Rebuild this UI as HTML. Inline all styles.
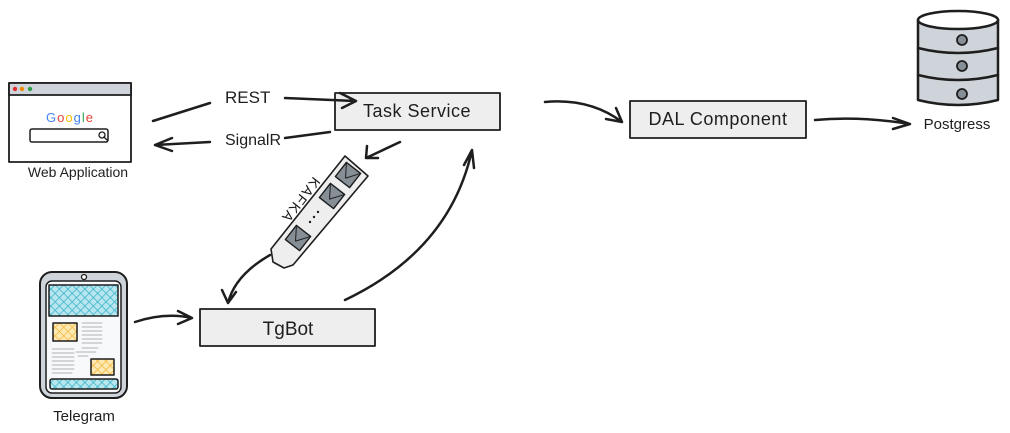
<!DOCTYPE html>
<html><head><meta charset="utf-8"><style>
html,body{margin:0;padding:0;background:#fff;}
svg{display:block;}
text{font-family:"Liberation Sans",sans-serif;fill:#1e1e1e;}
</style></head><body>
<svg width="1010" height="433" viewBox="0 0 1010 433" xmlns="http://www.w3.org/2000/svg">
<defs>
<pattern id="hb" width="6" height="6" patternUnits="userSpaceOnUse" patternTransform="rotate(45)">
<rect width="6" height="6" fill="#b8e6ee"/><path d="M0 0H6M0 0V6" stroke="#3bb4cc" stroke-width="1.6"/></pattern>
<pattern id="hy" width="6" height="6" patternUnits="userSpaceOnUse" patternTransform="rotate(45)">
<rect width="6" height="6" fill="#fde9b4"/><path d="M0 0H6M0 0V6" stroke="#f5b83c" stroke-width="1.6"/></pattern>
</defs>
<g fill="none" stroke="#1e1e1e" stroke-width="2.5" stroke-linecap="round" stroke-linejoin="round">
<rect x="9" y="83" width="122" height="79" fill="#fff" stroke-width="1.8"/>
<rect x="9" y="83" width="122" height="12" fill="#ced4da" stroke-width="1.8"/>
<rect x="30" y="129" width="78" height="13" rx="2" fill="#fff" stroke-width="1.5"/>
<circle cx="102" cy="135" r="3" stroke-width="1.3"/><path d="M104 137l3 3" stroke-width="1.3"/>
<rect x="335" y="93" width="165" height="37" fill="#eeeeee" stroke-width="1.8"/>
<rect x="630" y="101" width="176" height="37" fill="#eeeeee" stroke-width="1.8"/>
<rect x="200" y="309" width="175" height="37" fill="#eeeeee" stroke-width="1.8"/>
<path d="M918 20 V100 Q958 110 998 100 V20" fill="#ced4da"/>
<ellipse cx="958" cy="20" rx="40" ry="9" fill="#fff"/>
<path d="M918 48 Q958 58 998 48 M918 75 Q958 85 998 75"/>
<circle cx="962" cy="40" r="5" fill="#868e96" stroke-width="1.8"/>
<circle cx="962" cy="66" r="5" fill="#868e96" stroke-width="1.8"/>
<circle cx="962" cy="94" r="5" fill="#868e96" stroke-width="1.8"/>
<rect x="40" y="272" width="87" height="126" rx="12" fill="#ced4da" stroke-width="2"/>
<rect x="46" y="281" width="75" height="112" rx="6" fill="#f8f9fa" stroke-width="1.5"/>
<circle cx="84" cy="277" r="2.5" fill="#fff" stroke-width="1.3"/>
<rect x="49" y="285" width="69" height="31" fill="url(#hb)" stroke-width="1.5"/>
<rect x="53" y="323" width="24" height="18" fill="url(#hy)" stroke-width="1.5"/>
<rect x="91" y="359" width="23" height="16" fill="url(#hy)" stroke-width="1.5"/>
<rect x="50" y="379" width="68" height="10" rx="2" fill="url(#hb)" stroke-width="1.5"/>
<g stroke="#999" stroke-width="0.8">
<path d="M82 323h20M82 327h20M82 331h20M82 335h20M82 339h20M82 343h20M82 348h16"/>
<path d="M52 349h22M52 353h22M52 357h22M52 361h22M52 365h22M52 369h22M52 373h20"/>
<path d="M76 352h20M78 356h10"/>
</g>
<polygon points="345,156 368,176 293,265 284,268 273,262 271,249" fill="#eeeeee" stroke-width="1.6"/>
<g fill="#868e96" stroke-width="1.4">
<g transform="translate(348,175) rotate(38)"><rect x="-9" y="-9" width="18" height="18"/><path d="M-9 -9 L0 4 L9 -9" fill="none" stroke-width="1"/></g>
<g transform="translate(332,196) rotate(38)"><rect x="-9" y="-9" width="18" height="18"/><path d="M-9 -9 L0 4 L9 -9" fill="none" stroke-width="1"/></g>
<g transform="translate(298,238) rotate(38)"><rect x="-9" y="-9" width="18" height="18"/><path d="M-9 -9 L0 4 L9 -9" fill="none" stroke-width="1"/></g>
</g>
<path d="M153 121 L210 103"/>
<path d="M285 98 L355 101 M340 93 L356 101 L342 108"/>
<path d="M330 132 L285 138 M210 142 L155 145 M172 138 L155 145 L172 151"/>
<path d="M545 102 Q590 98 622 122 M606 119 L622 122 L616 108"/>
<path d="M815 120 Q860 116 910 124 M893 118 L910 124 L893 129"/>
<path d="M400 142 L366 158 M367 146 L366 158 L378 158"/>
<path d="M270 255 Q235 275 228 303 M222 290 L228 303 L236 292"/>
<path d="M345 300 Q450 250 472 150 M464 165 L472 150 L474 168"/>
<path d="M135 322 Q165 312 192 318 M178 311 L192 318 L178 324"/>
</g>
<circle cx="318" cy="212" r="1.2" fill="#1e1e1e"/><circle cx="314" cy="217" r="1.2" fill="#1e1e1e"/><circle cx="310" cy="222" r="1.2" fill="#1e1e1e"/>
<text x="225" y="103" font-size="17">REST</text>
<text x="225" y="145" font-size="16">SignalR</text>
<text x="417" y="117" font-size="18" text-anchor="middle" letter-spacing="0.5">Task Service</text>
<text x="718" y="125" font-size="18" text-anchor="middle" letter-spacing="0.5">DAL Component</text>
<text x="288" y="335" font-size="19" text-anchor="middle">TgBot</text>
<text x="78" y="177" font-size="14" text-anchor="middle">Web Application</text>
<text x="84" y="421" font-size="15" text-anchor="middle">Telegram</text>
<text x="957" y="129" font-size="15" text-anchor="middle">Postgress</text>
<text x="70" y="122" font-size="13" text-anchor="middle" letter-spacing="1"><tspan style="fill:#4285f4">G</tspan><tspan style="fill:#ea4335">o</tspan><tspan style="fill:#fbbc05">o</tspan><tspan style="fill:#4285f4">g</tspan><tspan style="fill:#34a853">l</tspan><tspan style="fill:#ea4335">e</tspan></text>
<circle cx="15" cy="89" r="2.2" fill="#e03131"/><circle cx="22" cy="89" r="2.2" fill="#f08c00"/><circle cx="30" cy="89" r="2.2" fill="#2f9e44"/>
<text transform="translate(297,197) rotate(128)" font-size="14" text-anchor="middle" letter-spacing="1.5">KAFKA</text>
</svg>
</body></html>
